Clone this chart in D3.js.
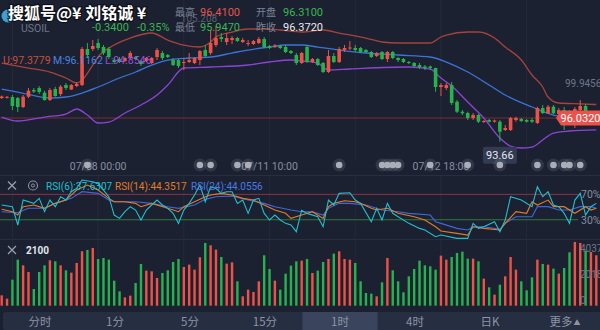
<!DOCTYPE html>
<html><head><meta charset="utf-8">
<script src="https://cdn.jsdelivr.net/npm/d3@7/dist/d3.min.js"></script>
<style>
html,body{margin:0;padding:0;background:#1b2131;overflow:hidden;}
svg{display:block;}
text{font-family:Roboto,"Noto Sans CJK SC","Liberation Sans",sans-serif;}
</style></head><body>
<svg id="chart" width="600" height="330"></svg>
<script>
// ---------- DATA ----------
const openP = [98.03,98.08,98.13,98.03,97.13,98.16,98.83,99.03,98.56,97.83,
98.93,98.43,99.33,98.88,99.23,99.33,102.93,102.93,103.53,103.13,
102.93,101.83,101.93,101.73,102.03,102.13,101.73,101.73,101.53,102.13,
102.53,102.33,101.83,101.83,101.53,101.63,101.53,101.83,102.83,102.53,
103.33,104.13,103.63,103.83,104.03,103.63,103.43,103.43,103.53,103.93,
103.23,103.13,103.23,103.13,102.73,102.33,101.53,103.13,101.63,101.93,
101.53,100.63,102.23,101.63,102.83,102.98,103.03,103.03,102.83,102.63,
102.23,102.63,101.93,102.63,102.03,101.93,101.63,101.53,101.33,101.18,
101.18,101.03,99.13,99.03,99.33,97.66,96.66,96.53,96.03,96.33,
95.63,95.83,95.66,95.66,94.83,94.83,95.83,95.93,95.83,95.83,
95.53,97.03,96.50,97.16,96.43,96.83,96.63,96.23,96.83,97.23,
96.23,95.88];
const closeP = [98.18,98.15,97.23,97.13,98.16,98.76,98.68,98.63,97.83,98.83,
98.23,99.16,99.03,99.33,99.43,102.93,102.33,103.23,103.03,102.53,
102.13,101.63,101.63,102.03,102.53,101.93,101.43,102.03,102.03,102.83,
102.03,102.13,101.33,101.23,101.63,101.83,102.03,102.73,102.23,103.53,
104.03,103.93,104.03,104.03,103.73,103.83,103.53,103.73,103.93,103.13,
103.03,103.28,103.03,102.63,102.53,101.53,102.53,101.63,101.93,101.33,
100.63,102.23,101.63,102.93,103.03,103.08,102.83,102.63,102.63,102.13,
102.53,101.93,102.63,102.03,101.83,101.63,101.53,101.23,101.13,101.03,
101.03,99.13,99.33,99.33,97.53,96.66,96.50,96.03,96.33,95.66,
95.73,95.66,95.78,94.66,95.03,96.03,96.03,95.73,95.66,95.66,
97.03,96.53,97.16,96.50,96.83,96.23,96.13,96.93,97.23,96.63,
96.53,96.032];
const highP = [98.28,98.23,98.33,98.13,98.33,99.03,99.03,99.23,98.76,99.03,
99.16,99.33,99.53,99.43,99.63,103.13,103.53,103.83,103.93,103.33,
103.13,102.03,102.13,102.13,102.73,102.23,101.83,102.13,102.13,103.03,
102.73,102.43,102.03,101.93,102.03,102.53,102.13,102.83,103.33,104.83,
105.208,104.53,104.53,104.23,104.13,104.03,103.83,103.83,104.13,104.13,
103.33,103.43,103.33,103.33,102.83,102.53,102.63,103.33,102.03,102.03,
101.63,102.83,102.53,103.13,103.33,103.73,103.33,103.13,102.93,102.73,
102.63,102.73,102.73,102.73,102.13,102.03,101.73,101.63,101.53,101.33,
101.28,101.06,99.53,99.53,99.63,97.83,96.83,96.66,96.53,96.43,
95.83,95.93,95.88,95.83,95.33,96.13,96.16,96.03,95.93,96.03,
97.16,97.33,97.33,97.33,97.03,97.13,96.83,97.13,97.83,97.43,
96.73,96.43];
const lowP = [97.93,97.98,96.83,96.63,97.03,98.03,98.53,98.43,97.76,97.73,
98.16,98.23,98.83,98.83,99.13,99.23,102.03,102.73,102.83,102.33,
101.93,101.43,101.53,101.63,101.83,101.83,101.23,101.63,101.43,101.83,
101.83,102.03,101.23,101.03,100.83,101.53,101.43,101.33,102.13,102.33,
103.13,103.63,103.33,103.43,103.63,103.53,103.23,103.33,103.43,103.03,
102.93,103.03,102.93,102.53,102.43,101.33,101.43,101.53,101.53,101.23,
100.53,100.53,101.53,101.53,102.63,102.83,102.63,102.53,102.53,102.03,
102.13,101.83,101.63,101.93,101.63,101.53,101.43,101.13,100.93,100.83,
100.83,98.66,98.23,98.83,97.33,96.53,96.33,95.83,95.83,95.53,
95.53,95.58,95.58,93.66,94.73,94.73,95.66,95.63,95.58,95.53,
95.43,96.43,96.43,96.43,96.23,94.83,95.83,95.03,96.63,96.03,
96.03,95.88];
const volumes = [818,555,2053,3631,3184,2658,1317,2658,3184,3579,
3500,3184,2790,2605,3368,4288,4393,4551,3683,3763,
3631,1973,1133,660,792,1790,3290,2763,2710,2184,
2579,2790,3447,3683,3053,3237,2842,3815,4946,4762,
4420,3842,3316,3420,1922,740,1265,1080,1922,3973,
2895,1973,1265,2526,3158,3500,
3552,3683,2579,2763,3447,3683,4104,4288,3683,3631,
3368,1922,1002,949,740,1840,3763,2790,1922,1054,
2316,2895,3552,3184,3105,2842,3946,3631,3841,4157,
4262,3710,3710,3500,2132,1449,870,1659,2316,3841,
2842,1922,1212,2237,3631,3290,3237,2921,2526,2974,
4209,5024,4946,4341,4236,3973];

// Bollinger bands (candle index, price)
const upperIdx = [0,5,9,12,14,15,17,18,21,24,28,31,34,37,39,40,43,46,49,52,56,60,63,68,71,74,80,82,83,87,89,92,94,97,99,101,102,104,108,111];
const upperVal = [101.53,101.03,100.63,100.03,99.53,99.83,101.33,102.13,103.33,104.03,104.53,103.83,103.33,103.13,103.63,104.13,104.63,104.93,104.93,104.83,104.63,104.83,104.53,104.03,103.63,103.53,103.53,104.13,104.33,104.63,104.63,104.03,103.13,101.83,100.33,99.13,98.13,97.53,97.45,97.38];
const midIdx = [0,3,9,12,15,18,22,25,28,31,35,39,43,46,50,53,56,59,63,68,74,80,83,87,91,94,99,103,106,111];
const midVal = [98.93,98.63,98.03,98.13,98.53,99.13,100.03,100.63,101.33,101.83,102.03,102.13,102.53,102.83,103.13,103.33,103.33,103.13,102.83,102.53,102.33,102.13,101.63,100.63,99.33,98.33,97.13,96.33,96.13,96.12];
const lowerIdx = [0,3,8,12,14,16,18,20,23,26,29,31,34,39,46,50,54,56,59,61,65,76,80,82,84,87,90,93,95,97,99,101,103,106,111];
const lowerVal = [96.13,95.73,96.13,96.43,96.93,96.33,95.53,95.63,96.53,97.33,98.33,99.33,101.03,101.13,101.33,101.63,101.83,101.73,101.53,100.83,100.93,101.13,100.93,100.03,99.23,97.63,96.03,94.03,93.23,93.03,93.13,93.83,94.53,94.73,94.85];

// RSI (candle index, value)
const rsi6Idx = [0,2,3,4,6,7,8,9,10,11,12,13,14,15,17,18,19,20,21,22,23,24,25,26,27,28,29,30,31,32,33,34,35,36,37,38,39,40,41,42,43,44,45,46,47,48,49,50,51,52,53,54,55,56,57,59,60,61,62,63,65,66,67,69,70,71,72,73,74,76,78,79,81,82,85,87,88,89,90,92,93,94,95,97,99,100,101,102,103,104,105,106,107,108,109,110,111];
const rsi6Val = [53.2,50.5,21.7,61,55.8,63.7,42.7,61,50.6,66.3,61,74.2,79.4,92.6,89.9,87.3,76.8,66.3,37.4,32.2,42.7,50.6,45.3,29.6,45.3,53.2,61,53.2,48,40.1,24.3,45.3,55.8,68.9,84.7,58.4,82.1,79.4,71.6,74.2,74.2,55.8,61,40.1,61,63.7,40,29.6,37.4,29.6,24.3,21.7,11.2,45,40,34.8,19,61,53.2,71.6,72.6,61,55.8,26.9,48,29.6,55.8,40.1,34.8,24.3,16.4,13.8,3.3,5.9,0.7,0.7,24.3,16.4,19,26.9,11.2,29.6,66.3,61,50.6,82.1,66.3,74.2,53.2,50.6,40.1,24.3,61,71.6,37.4,50.6,55.8];
const rsi14Idx = [0,2,3,4,6,8,10,12,14,16,18,20,21,23,25,26,28,31,33,34,36,38,39,41,43,45,47,49,51,53,54,56,58,60,61,62,64,66,67,69,70,72,74,77,79,81,82,85,87,88,90,93,94,96,98,99,100,102,103,105,107,109,110,111];
const rsi14Val = [46.4,42.7,37.4,50.6,53.2,48,55.8,61,76.8,84.7,76.8,63.7,58.4,58.4,55.8,50.6,55.8,48,42.7,50.6,58.4,66.3,68.9,71.6,68.9,63.7,61,53.2,45.3,40.1,32.2,37.4,42.7,32.2,50.6,55.8,60,58.4,55.8,48,45.3,48,40.1,34.8,29.6,19,12.2,8.6,5.9,19,16.4,13.8,24.3,42.7,40.1,58.4,53.2,61,50.6,50.6,40.1,50.6,45.3,48];
const rsi24Idx = [0,3,5,8,10,13,15,18,20,21,25,28,31,33,36,38,40,43,46,49,51,54,56,58,60,61,63,65,68,71,74,76,80,81,82,85,87,88,90,93,94,96,99,100,102,104,106,108,110,111];
const rsi24Val = [42.7,41.1,48,48,55.8,63.7,74.2,71.6,61,58.4,58.4,55.8,50.6,48,53.2,62.1,66.3,67.4,61,55.8,50.6,45.3,42.7,42.7,37.4,48,55.8,55.8,53.2,45.3,42.7,40.1,37.4,26.9,24.3,16.4,13.8,19,19,14.9,24.3,34.8,34.8,50.6,50.6,45.3,45.3,50.6,50.6,48];
const rsiLevels = [70, 30];
const rsiLegend = ["RSI(6):37.6307","RSI(14):44.3517","RSI(24):44.0556"];

// axes / labels
const gridIdx = [2,18,34,50,66,82,98];
const timeIdx = [18,50,82];
const timeLabels = ["07/08 00:00","07/11 10:00","07/12 18:00"];
const eventIdx = [16,37,39,44,46,63,71,72,73,74,80,87,93,100,103,105,106,108];
const volTicks = [0,2018,4037];
const volHeader = "2100";
const priceMark = 99.9456;
const bandLegend = ["U:97.3779","M:96.1162","L:94.8546"];
const quoteLabels = ["最高","开盘","最低","昨收"];
const quoteValues = ["96.4100","96.3100","95.9470","96.3720"];
const changeTexts = ["-0.3400","-0.35%"];
const symbol = "USOIL";
const watermark = "搜狐号@¥ 刘铭诚 ¥";
const tabs = ["分时","1分","5分","15分","1时","4时","日K","更多"];
const activeTab = "1时";

// ---------- DRAW ----------
const C = {bg:"#1b2131", up:"#ee5246", down:"#28b24d", grid:"rgba(255,255,255,0.045)", txt:"#878ea0",
  upper:"#a6433a", mid:"#3a74d6", low:"#8b45d4", r6:"#22bfcc", r14:"#e27b27", r24:"#3f67dc"};
const svg = d3.select("#chart");
svg.append("rect").attr("width",600).attr("height",330).attr("fill",C.bg);
const defs = svg.append("defs");
defs.append("clipPath").attr("id","clipMain").append("rect").attr("x",0).attr("y",0).attr("width",600).attr("height",158);
defs.append("clipPath").attr("id","clipRsi").append("rect").attr("x",0).attr("y",176).attr("width",600).attr("height",63);

const x = d3.scaleLinear().domain([0,111]).range([1.7,596.3]);
const y = d3.scaleLinear().domain([92.332,107.832]).range([155,0]);
const yR = d3.scaleLinear().domain([0,100]).range([238.8,175.3]);
const yV = d3.scaleLinear().domain([0,5100]).range([305.7,241]);

// grid
const gGrid = svg.append("g");
const spans = [[0,160],[176,239],[240,306]];
gGrid.selectAll("line").data(d3.cross(gridIdx, spans)).join("line")
  .attr("x1",d=>x(d[0])).attr("x2",d=>x(d[0])).attr("y1",d=>d[1][0]).attr("y2",d=>d[1][1])
  .attr("stroke",C.grid);
svg.selectAll("line.sep").data([175.5,239.5]).join("line").attr("class","sep")
  .attr("x1",0).attr("x2",600).attr("y1",d=>d).attr("y2",d=>d).attr("stroke","#272e40");

const lastClose = closeP[closeP.length-1];
const gMain = svg.append("g").attr("clip-path","url(#clipMain)");
gMain.append("line").attr("x1",0).attr("x2",557).attr("y1",y(lastClose)).attr("y2",y(lastClose))
  .attr("stroke","#7a2c33").attr("stroke-width",1);

// band legend (behind candles)
const legendX = [3,53,105];
svg.selectAll("text.bl").data(bandLegend).join("text").attr("class","bl")
  .attr("x",(d,i)=>legendX[i]).attr("y",64).attr("font-size",10.5)
  .attr("fill",(d,i)=>[ "#c4503f", "#4a83e0", "#9450dc"][i]).text(d=>d);

// bands
const bandLine = d3.line().x(d=>x(d[0])).y(d=>y(d[1])).curve(d3.curveMonotoneX);
[[upperIdx,upperVal,C.upper],[midIdx,midVal,C.mid],[lowerIdx,lowerVal,C.low]].forEach(([ix,vals,col])=>{
  gMain.append("path").datum(d3.zip(ix,vals)).attr("d",bandLine).attr("fill","none")
    .attr("stroke",col).attr("stroke-width",1.3);
});

// max label (drawn under header text)
const maxI = d3.maxIndex(highP), minI = d3.minIndex(lowP);
svg.append("text").attr("x",x(maxI)-17).attr("y",21.5).attr("text-anchor","middle").attr("font-size",10)
  .attr("fill","rgba(150,156,170,0.5)").text(highP[maxI].toFixed(3));

// candles
const candles = d3.range(openP.length).map(i=>({i,o:openP[i],h:highP[i],l:lowP[i],c:closeP[i]}));
const col = d=> d.c>=d.o ? C.up : C.down;
gMain.selectAll("line.wick").data(candles).join("line").attr("class","wick")
  .attr("x1",d=>x(d.i)).attr("x2",d=>x(d.i)).attr("y1",d=>y(d.h)).attr("y2",d=>y(d.l))
  .attr("stroke",col).attr("stroke-width",1);
gMain.selectAll("rect.body").data(candles).join("rect").attr("class","body")
  .attr("x",d=>x(d.i)-1.8).attr("width",3.6)
  .attr("y",d=>y(Math.max(d.o,d.c))).attr("height",d=>Math.max(1,Math.abs(y(d.o)-y(d.c))))
  .attr("fill",col);

// min marker
const lowBox = svg.append("g");
lowBox.append("rect").attr("x",x(minI)-17).attr("y",y(lowP[minI])+5).attr("width",34).attr("height",17)
  .attr("rx",2).attr("fill","#323b52");
lowBox.append("text").attr("x",x(minI)).attr("y",y(lowP[minI])+17.5).attr("text-anchor","middle")
  .attr("font-size",11).attr("fill","#e6e8ee").text(lowP[minI].toFixed(2));

// right price label
svg.append("text").attr("x",565).attr("y",y(priceMark)+8.5).attr("font-size",10)
  .attr("fill","#6f7687").text(priceMark.toFixed(4));

// price tag
const ty = y(lastClose);
svg.append("path").attr("d",`M556,${ty} L561,${ty-7.5} L600,${ty-7.5} L600,${ty+7.5} L561,${ty+7.5} Z`)
  .attr("fill","#e9534b");
svg.append("text").attr("x",580.5).attr("y",ty+4).attr("text-anchor","middle").attr("font-size",11)
  .attr("fill","#ffffff").text(lastClose.toFixed(4));

// time labels
svg.selectAll("text.tl").data(timeIdx).join("text").attr("class","tl")
  .attr("x",d=>x(d)).attr("y",169.5).attr("text-anchor","middle").attr("font-size",10.5)
  .attr("fill",C.txt).text((d,i)=>timeLabels[i]);
// event dots
const gEv = svg.append("g");
gEv.selectAll("circle.h").data(eventIdx).join("circle").attr("class","h")
  .attr("cx",d=>x(d)).attr("cy",165).attr("r",6.5).attr("fill","rgba(200,205,215,0.13)");
gEv.selectAll("circle.d").data(eventIdx).join("circle").attr("class","d")
  .attr("cx",d=>x(d)).attr("cy",165).attr("r",3.3).attr("fill","#a9aeb9");

// header
svg.append("text").attr("x",21).attr("y",32).attr("font-size",10.5).attr("fill","#6f7687").text(symbol);
svg.selectAll("text.chg").data(changeTexts).join("text").attr("class","chg")
  .attr("x",(d,i)=>[92,137][i]).attr("y",31).attr("font-size",11).attr("fill","#3cb54f").text(d=>d);
const qx = [[175,200],[256,283],[175,200],[256,283]];
const qy = [16,16,31,31];
const qCol = ["#e2564c","#3cb54f","#3cb54f","#e8e9ee"];
svg.selectAll("text.ql").data(quoteLabels).join("text").attr("class","ql")
  .attr("x",(d,i)=>qx[i][0]).attr("y",(d,i)=>qy[i]).attr("font-size",10).attr("fill","#7c8395")
  .style("font-family","'Noto Sans CJK SC',sans-serif").text(d=>d);
svg.selectAll("text.qv").data(quoteValues).join("text").attr("class","qv")
  .attr("x",(d,i)=>qx[i][1]).attr("y",(d,i)=>qy[i]).attr("font-size",11).attr("fill",(d,i)=>qCol[i]).text(d=>d);

// watermark
svg.append("circle").attr("cx",8).attr("cy",16).attr("r",6.5).attr("fill","#3d9fd3");
svg.append("text").attr("x",8).attr("y",19).attr("font-size",16).attr("font-weight","bold")
  .attr("fill","#ffffff").attr("stroke","rgba(10,12,20,0.75)").attr("stroke-width",2.5)
  .attr("paint-order","stroke").style("font-family","'Noto Sans CJK SC',sans-serif").text(watermark);

// ---------- RSI panel ----------
const gR = svg.append("g").attr("clip-path","url(#clipRsi)");
gR.selectAll("line.lvl").data(rsiLevels).join("line").attr("class","lvl")
  .attr("x1",0).attr("x2",578).attr("y1",d=>yR(d)).attr("y2",d=>yR(d))
  .attr("stroke",(d,i)=>i===0?"#8a3446":"#2f7a3c").attr("stroke-width",1);
const rLine = d3.line().x(d=>x(d[0])).y(d=>yR(d[1]));
[[rsi24Idx,rsi24Val,C.r24],[rsi14Idx,rsi14Val,C.r14],[rsi6Idx,rsi6Val,C.r6]].forEach(([ix,vals,c])=>{
  gR.append("path").datum(d3.zip(ix,vals)).attr("d",rLine).attr("fill","none").attr("stroke",c).attr("stroke-width",1.1);
});
svg.selectAll("text.lv").data(rsiLevels).join("text").attr("class","lv")
  .attr("x",581).attr("y",d=>yR(d)+4).attr("font-size",10.5).attr("fill",C.txt).text(d=>d+"%");
function closeIcon(cx,cy){
  svg.append("path").attr("d",`M${cx-4},${cy-4} L${cx+4},${cy+4} M${cx+4},${cy-4} L${cx-4},${cy+4}`)
    .attr("stroke","#9aa0ad").attr("stroke-width",1.2);
}
closeIcon(12,185.5);
svg.append("circle").attr("cx",33).attr("cy",185.5).attr("r",4.5).attr("fill","none").attr("stroke","#8c92a0").attr("stroke-width",1.1);
svg.append("circle").attr("cx",33).attr("cy",185.5).attr("r",1.6).attr("fill","none").attr("stroke","#8c92a0").attr("stroke-width",1);
svg.selectAll("text.rl").data(rsiLegend).join("text").attr("class","rl")
  .attr("x",(d,i)=>[46,115,191][i]).attr("y",189.5).attr("font-size",10)
  .attr("fill",(d,i)=>[C.r6,C.r14,"#4a78e6"][i]).text(d=>d);

// ---------- Volume panel ----------
const gV = svg.append("g");
gV.selectAll("rect").data(candles).join("rect")
  .attr("x",d=>x(d.i)-1.2).attr("width",2.4)
  .attr("y",d=>yV(volumes[d.i])).attr("height",d=>yV(0)-yV(volumes[d.i]))
  .attr("fill",col);
closeIcon(12,250);
svg.append("text").attr("x",26).attr("y",254).attr("font-size",10).attr("font-weight","bold")
  .attr("fill","#e4e6ec").text(volHeader);
svg.selectAll("text.vt").data(volTicks).join("text").attr("class","vt")
  .attr("x",580).attr("y",d=>yV(d)-2).attr("font-size",10).attr("fill","#6f7687").text(d=>d);

// ---------- Tabs ----------
const tb = d3.scaleBand().domain(tabs).range([2.5,602.5]);
svg.append("rect").attr("x",3).attr("y",312).attr("width",600).attr("height",18).attr("rx",2).attr("fill","#262e42");
svg.append("rect").attr("x",tb(activeTab)).attr("y",312).attr("width",tb.bandwidth()).attr("height",18).attr("fill","#3a445c");
const tt = svg.selectAll("text.tab").data(tabs).join("text").attr("class","tab")
  .attr("x",d=>tb(d)+tb.bandwidth()/2).attr("y",325.5).attr("text-anchor","middle")
  .attr("font-size",11.5).attr("fill","#8d94a6").style("font-family","'Noto Sans CJK SC',sans-serif")
  .text(d=>d);
tt.filter(d=>d==="更多").append("tspan").attr("font-size",7).attr("dx",1).attr("dy",-1).text("▲");
</script>
</body></html>
